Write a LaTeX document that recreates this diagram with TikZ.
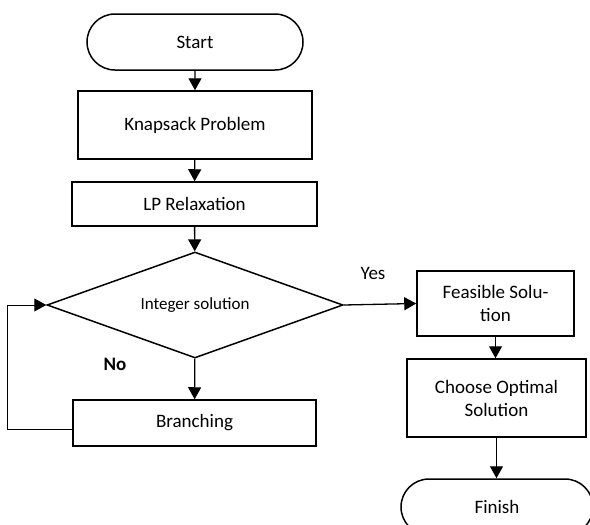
\documentclass[tikz,border=0pt]{standalone}
\usepackage{fontspec}
\setmainfont{Carlito}
\usetikzlibrary{shapes.geometric,shapes.misc,arrows.meta}
\tikzset{
  base/.style={draw=black,line width=1.5pt,align=center,inner sep=2pt,font=\fontsize{19}{23}\selectfont},
  terminal/.style={base,rounded rectangle},
  procbox/.style={base,rectangle},
  decision/.style={base,diamond,aspect=2.8,inner sep=0pt,font=\fontsize{17}{20}\selectfont},
  conn/.style={line width=1.3pt,-{Triangle[length=12pt,width=13pt]}},
  loopconn/.style={line width=1pt,-{Triangle[length=12pt,width=13pt]}},
  lbl/.style={font=\fontsize{19}{23}\selectfont,inner sep=0pt}
}
\begin{document}
\begin{tikzpicture}[x=1pt,y=-1pt]
\useasboundingbox (0,0) rectangle (590,525);
\clip (0,0) rectangle (590,525);
\node[terminal,minimum width=220pt,minimum height=56pt] (st) at (195,42) {Start};
\node[procbox,minimum width=234pt,minimum height=68pt] (kp) at (195,125) {Knapsack Problem};
\node[procbox,minimum width=245pt,minimum height=44pt] (lp) at (194.5,204) {LP Relaxation};
\node[decision,minimum width=296pt,minimum height=106pt] (dia) at (195,305) {Integer solution};
\node[procbox,minimum width=243pt,minimum height=46pt] (br) at (194.5,423) {Branching};
\node[procbox,minimum width=157pt,minimum height=65pt] (fs) at (495.5,303.5) {Feasible Solu-\\tion};
\node[procbox,minimum width=179pt,minimum height=78pt] (co) at (496.5,398) {Choose Optimal\\Solution};
\node[terminal,minimum width=196pt,minimum height=56pt] (fi) at (497,507) {Finish};
\node[lbl] (yes) at (373,273) {Yes};
\node[lbl,font=\fontsize{19}{23}\selectfont\bfseries] (no) at (115,364) {No};
\draw[conn] (st) -- (kp);
\draw[conn] (kp) -- (lp);
\draw[conn] (lp) -- (dia);
\draw[conn] (dia) -- (br);
\draw[conn] (dia.east) -- (fs.west);
\draw[conn] (fs.south) -- (fs.south |- co.north);
\draw[conn] (co.south) -- (co.south |- fi.north);
\draw[loopconn] ([yshift=-6pt]br.west) -- ++(-65,0) coordinate (lc) |- (dia.west);
\end{tikzpicture}
\end{document}
